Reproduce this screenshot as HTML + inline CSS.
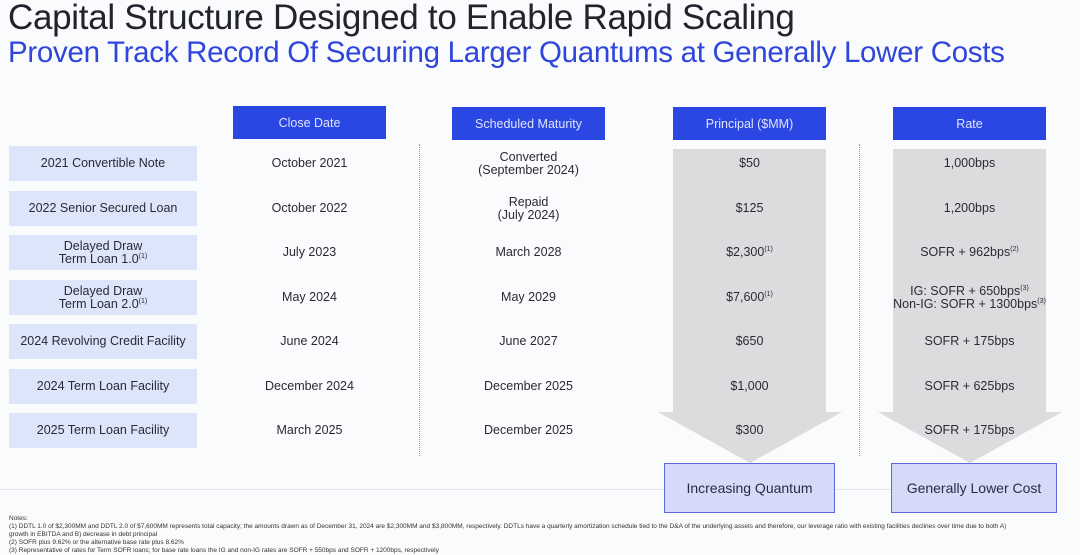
<!DOCTYPE html>
<html><head><style>
body{margin:0;width:1080px;height:555px;background:#fafbfd;font-family:"Liberation Sans",sans-serif;position:relative;overflow:hidden;color:#2a2a35}
.a{position:absolute}
.t{left:8px;top:-2px;font-size:35px;color:#22232c;white-space:nowrap;letter-spacing:-0.3px}
.s{left:8px;top:36px;font-size:29.5px;color:#2f45db;white-space:nowrap;letter-spacing:-0.3px}
.h{background:#2b47e3;color:#dfe4ff;font-size:12.5px;display:flex;align-items:center;justify-content:center;height:33px;width:153px}
.l{left:9px;width:188px;height:35px;background:#dde5fb;font-size:12.5px;display:flex;align-items:center;justify-content:center;text-align:center;line-height:13px;color:#2a2a35}
.c{width:153px;text-align:center;font-size:12.5px;line-height:13px;display:flex;align-items:center;justify-content:center;height:35px;color:#2a2a35}
sup{font-size:7px;line-height:0}
.d{width:0;border-left:1.5px dotted #999;top:144px;height:312px}
.b{background:#d6daf9;border:1.5px solid #5c6ce0;font-size:14px;display:flex;align-items:center;justify-content:center;color:#2a2a40}
.n{left:9px;font-size:6.5px;color:#333;line-height:8px;white-space:nowrap}
</style></head><body>
<div class="a t">Capital Structure Designed to Enable Rapid Scaling</div>
<div class="a s">Proven Track Record Of Securing Larger Quantums at Generally Lower Costs</div>
<div class="a" style="left:0;top:489px;width:1000px;height:1px;background:#e2e4ea"></div>
<svg class="a" style="left:0;top:0" width="1080" height="555">
<polygon points="673,149 826,149 826,412 842,412 750,463 658,412 673,412" fill="#dcdcde"/>
<polygon points="893,149 1046,149 1046,412 1062,412 970,463 878,412 893,412" fill="#dcdcde"/>
</svg>
<div class="a h" style="left:233px;top:106px">Close Date</div>
<div class="a h" style="left:452px;top:107px">Scheduled Maturity</div>
<div class="a h" style="left:673px;top:107px">Principal ($MM)</div>
<div class="a h" style="left:893px;top:107px">Rate</div>
<div class="a d" style="left:419px"></div>
<div class="a d" style="left:859px"></div>

<div class="a l" style="top:146px"><div>2021 Convertible Note</div></div>
<div class="a l" style="top:191px"><div>2022 Senior Secured Loan</div></div>
<div class="a l" style="top:235px"><div>Delayed Draw<br>Term Loan 1.0<sup>(1)</sup></div></div>
<div class="a l" style="top:280px"><div>Delayed Draw<br>Term Loan 2.0<sup>(1)</sup></div></div>
<div class="a l" style="top:324px"><div>2024 Revolving Credit Facility</div></div>
<div class="a l" style="top:369px"><div>2024 Term Loan Facility</div></div>
<div class="a l" style="top:413px"><div>2025 Term Loan Facility</div></div>

<div class="a c" style="left:233px;top:146px"><div>October 2021</div></div>
<div class="a c" style="left:233px;top:191px"><div>October 2022</div></div>
<div class="a c" style="left:233px;top:235px"><div>July 2023</div></div>
<div class="a c" style="left:233px;top:280px"><div>May 2024</div></div>
<div class="a c" style="left:233px;top:324px"><div>June 2024</div></div>
<div class="a c" style="left:233px;top:369px"><div>December 2024</div></div>
<div class="a c" style="left:233px;top:413px"><div>March 2025</div></div>

<div class="a c" style="left:452px;top:146px"><div>Converted<br>(September 2024)</div></div>
<div class="a c" style="left:452px;top:191px"><div>Repaid<br>(July 2024)</div></div>
<div class="a c" style="left:452px;top:235px"><div>March 2028</div></div>
<div class="a c" style="left:452px;top:280px"><div>May 2029</div></div>
<div class="a c" style="left:452px;top:324px"><div>June 2027</div></div>
<div class="a c" style="left:452px;top:369px"><div>December 2025</div></div>
<div class="a c" style="left:452px;top:413px"><div>December 2025</div></div>

<div class="a c" style="left:673px;top:146px"><div>$50</div></div>
<div class="a c" style="left:673px;top:191px"><div>$125</div></div>
<div class="a c" style="left:673px;top:235px"><div>$2,300<sup>(1)</sup></div></div>
<div class="a c" style="left:673px;top:280px"><div>$7,600<sup>(1)</sup></div></div>
<div class="a c" style="left:673px;top:324px"><div>$650</div></div>
<div class="a c" style="left:673px;top:369px"><div>$1,000</div></div>
<div class="a c" style="left:673px;top:413px"><div>$300</div></div>

<div class="a c" style="left:893px;top:146px"><div>1,000bps</div></div>
<div class="a c" style="left:893px;top:191px"><div>1,200bps</div></div>
<div class="a c" style="left:893px;top:235px"><div>SOFR + 962bps<sup>(2)</sup></div></div>
<div class="a c" style="left:873px;width:193px;top:280px"><div style="white-space:nowrap">IG: SOFR + 650bps<sup>(3)</sup><br>Non-IG: SOFR + 1300bps<sup>(3)</sup></div></div>
<div class="a c" style="left:893px;top:324px"><div>SOFR + 175bps</div></div>
<div class="a c" style="left:893px;top:369px"><div>SOFR + 625bps</div></div>
<div class="a c" style="left:893px;top:413px"><div>SOFR + 175bps</div></div>

<div class="a b" style="left:664px;top:463px;width:169px;height:48px">Increasing Quantum</div>
<div class="a b" style="left:891px;top:463px;width:164px;height:48px">Generally Lower Cost</div>

<div class="a n" style="top:515px">Notes:<br>(1) DDTL 1.0 of $2,300MM and DDTL 2.0 of $7,600MM represents total capacity; the amounts drawn as of December 31, 2024 are $2,300MM and $3,800MM, respectively. DDTLs have a quarterly amortization schedule tied to the D&amp;A of the underlying assets and therefore, our leverage ratio with existing facilities declines over time due to both A)<br>growth in EBITDA and B) decrease in debt principal<br>(2) SOFR plus 9.62% or the alternative base rate plus 8.62%<br>(3) Representative of rates for Term SOFR loans; for base rate loans the IG and non-IG rates are SOFR + 550bps and SOFR + 1200bps, respectively</div>
</body></html>
